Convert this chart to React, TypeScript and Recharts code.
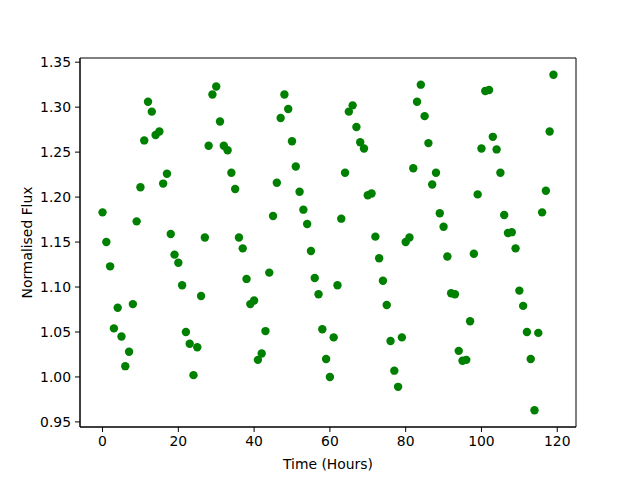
import { ReferenceArea, Scatter, ScatterChart, XAxis, YAxis } from 'recharts';

const hours = [
  0, 1, 2, 3, 4, 5, 6, 7, 8, 9, 10, 11, 12, 13, 14, 15, 16, 17, 18, 19,
  20, 21, 22, 23, 24, 25, 26, 27, 28, 29, 30, 31, 32, 33, 34, 35, 36, 37, 38, 39,
  40, 41, 42, 43, 44, 45, 46, 47, 48, 49, 50, 51, 52, 53, 54, 55, 56, 57, 58, 59,
  60, 61, 62, 63, 64, 65, 66, 67, 68, 69, 70, 71, 72, 73, 74, 75, 76, 77, 78, 79,
  80, 81, 82, 83, 84, 85, 86, 87, 88, 89, 90, 91, 92, 93, 94, 95, 96, 97, 98, 99,
  100, 101, 102, 103, 104, 105, 106, 107, 108, 109, 110, 111, 112, 113, 114, 115, 116, 117, 118, 119,
];

const flux = [
  1.183, 1.15, 1.123, 1.054, 1.077, 1.045, 1.012, 1.028, 1.081, 1.173,
  1.211, 1.263, 1.306, 1.295, 1.269, 1.273, 1.215, 1.226, 1.159, 1.136,
  1.127, 1.102, 1.05, 1.037, 1.002, 1.033, 1.09, 1.155, 1.257, 1.314,
  1.323, 1.284, 1.257, 1.252, 1.227, 1.209, 1.155, 1.143, 1.109, 1.081,
  1.085, 1.019, 1.026, 1.051, 1.116, 1.179, 1.216, 1.288, 1.314, 1.298,
  1.262, 1.234, 1.206, 1.186, 1.17, 1.14, 1.11, 1.092, 1.053, 1.02,
  1.0, 1.044, 1.102, 1.176, 1.227, 1.295, 1.302, 1.278, 1.261, 1.254,
  1.202, 1.204, 1.156, 1.132, 1.107, 1.08, 1.04, 1.007, 0.989, 1.044,
  1.15, 1.155, 1.232, 1.306, 1.325, 1.29, 1.26, 1.214, 1.227, 1.182,
  1.167, 1.134, 1.093, 1.092, 1.029, 1.018, 1.019, 1.062, 1.137, 1.203,
  1.254, 1.318, 1.319, 1.267, 1.253, 1.227, 1.18, 1.16, 1.161, 1.143,
  1.096, 1.079, 1.05, 1.02, 0.963, 1.049, 1.183, 1.207, 1.273, 1.336,
];

const xTicks = [0, 20, 40, 60, 80, 100, 120];
const yTicks = [0.95, 1.0, 1.05, 1.1, 1.15, 1.2, 1.25, 1.3, 1.35];

const data = hours.map((t, i) => ({ t, flux: flux[i] }));

const xDomain = [-5.95, 124.95];
const yDomain = [0.94435, 1.35465];

const font = { fontFamily: 'DejaVu Sans', fontSize: 13.9, fill: '#000' };

const Dot = (props: any) => <circle cx={props.cx} cy={props.cy} r={4.2} fill="#008000" />;

export default function App() {
  return (
    <div style={{ position: 'absolute', left: 0, top: 0, width: 640, height: 480, background: '#fff' }}>
      <ScatterChart width={640} height={480} margin={{ top: 58, right: 64, bottom: 3, left: 20 }}>
        <XAxis
          type="number"
          dataKey="t"
          domain={xDomain}
          ticks={xTicks}
          interval={0}
          allowDataOverflow
          height={50}
          tickSize={5}
          tickMargin={4}
          stroke="#000"
          tick={font}
          label={{ value: 'Time (Hours)', position: 'insideBottom', offset: 8, style: font }}
        />
        <YAxis
          type="number"
          dataKey="flux"
          domain={yDomain}
          ticks={yTicks}
          interval={0}
          allowDataOverflow
          width={60}
          tickSize={5}
          tickMargin={4}
          stroke="#000"
          tick={font}
          tickFormatter={(v) => v.toFixed(2)}
          label={{ value: 'Normalised Flux', angle: -90, position: 'insideLeft', offset: 7, style: { ...font, textAnchor: 'middle' } }}
        />
        <ReferenceArea x1={xDomain[0]} x2={xDomain[1]} y1={yDomain[0]} y2={yDomain[1]} fill="none" stroke="#000" strokeWidth={1} />
        <Scatter data={data} shape={Dot} isAnimationActive={false} />
      </ScatterChart>
    </div>
  );
}
